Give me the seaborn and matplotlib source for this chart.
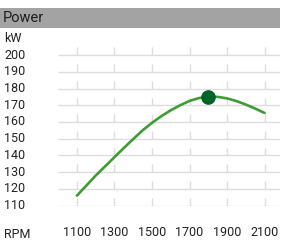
import matplotlib
matplotlib.use('Agg')
import matplotlib.pyplot as plt
import matplotlib.transforms as mtransforms
from matplotlib.patches import Rectangle
import seaborn as sns
import pandas as pd

# data (every 50 RPM)
rpm = [1100, 1150, 1200, 1250, 1300, 1350, 1400, 1450, 1500, 1550, 1600,
       1650, 1700, 1750, 1800, 1850, 1900, 1950, 2000, 2050, 2100]
power_kw = [116, 122, 128, 133.5, 139, 144.5, 149.8, 155, 159.5, 163.5, 167,
            170, 172.6, 174.3, 175.2, 175, 174.1, 172.5, 170.4, 168, 165.4]
peak_rpm = 1800
peak_kw = 175.2
x_ticks = [1100, 1300, 1500, 1700, 1900, 2100]
y_ticks = [110, 120, 130, 140, 150, 160, 170, 180, 190, 200]

sns.set_style('white')
plt.rcParams['font.family'] = ['Liberation Sans Narrow', 'Roboto', 'DejaVu Sans']

W, H = 297, 246
fig = plt.figure(figsize=(W / 100, H / 100), dpi=100)

# axes placed in pixel terms
left, right, top, bottom = 58, 280, 47, 206
ax = fig.add_axes([left / W, 1 - bottom / H, (right - left) / W, (bottom - top) / H])
ax.set_xlim(999, 2182)
ax.set_ylim(109.8, 204.8)
ax.axis('off')

grid_col = '#dddddd'
ax.hlines(y_ticks, 999, 2182, color=grid_col, linewidth=1, zorder=1)
for y in y_ticks:
    ax.vlines(x_ticks, y, y + 4.6, color=grid_col, linewidth=1, zorder=1)

df = pd.DataFrame({'rpm': rpm, 'kw': power_kw})
sns.lineplot(data=df, x='rpm', y='kw', ax=ax, color='#3f9c35', linewidth=1.9, zorder=3)
ax.plot([peak_rpm], [peak_kw], 'o', color='#00642a', markersize=9.5, zorder=4)

# header bar
fig.patches.append(Rectangle((0, 1 - 27.5 / H), 280 / W, 19.5 / H, transform=fig.transFigure,
                             facecolor='#a3a3a3', edgecolor='none', zorder=0))
fig.text(3 / W, 1 - 18 / H, 'Power', fontsize=10.5, color='#1e1e1e', va='center', ha='left')

txt = '#222222'
fig.text(4 / W, 1 - 39 / H, 'kW', fontsize=9, color=txt, va='center', ha='left')
trans_y = mtransforms.blended_transform_factory(fig.transFigure, ax.transData)
for y in y_ticks:
    ax.text(4 / W, y, str(y), transform=trans_y, fontsize=9, color=txt, va='center', ha='left')

trans_x = mtransforms.blended_transform_factory(ax.transData, fig.transFigure)
for x in x_ticks:
    ax.text(x, 1 - 233 / H, str(x), transform=trans_x, fontsize=9, color=txt, va='center', ha='center')
fig.text(4 / W, 1 - 234 / H, 'RPM', fontsize=9, color=txt, va='center', ha='left')

fig.savefig('out.png', dpi=100)
